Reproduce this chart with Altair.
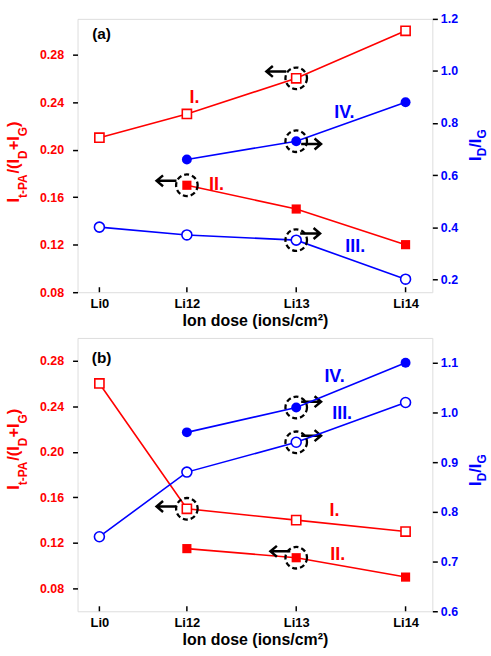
import altair as alt
import pandas as pd

# ---------------- data ----------------
doses = ["Li0", "Li12", "Li13", "Li14"]
dose_x = [11.2, 12, 13, 14]

a_I = [0.21, 0.23, 0.26, 0.30]
a_II = [None, 0.17, 0.15, 0.12]
a_III = [0.40, 0.37, 0.35, 0.20]
a_IV = [None, 0.66, 0.73, 0.88]

b_I = [0.26, 0.15, 0.14, 0.13]
b_II = [None, 0.115, 0.107, 0.09]
b_III = [0.75, 0.88, 0.94, 1.02]
b_IV = [None, 0.96, 1.01, 1.10]

left_ticks = [0.08, 0.12, 0.16, 0.20, 0.24, 0.28]
a_right_ticks = [0.2, 0.4, 0.6, 0.8, 1.0, 1.2]
b_right_ticks = [0.6, 0.7, 0.8, 0.9, 1.0, 1.1]

# ---------------- style ----------------
RED = "#ff0000"
BLUE = "#0000ff"
FONT = "Liberation Sans"
W, H = 357, 275
one = pd.DataFrame({"a": [0]})

x_scale = alt.Scale(domain=[11.0, 14.245], nice=False, zero=False)
label_expr = " : ".join(
    f"datum.value == {v} ? '{d}'" for v, d in zip(dose_x, doses)
) + " : ''"
x_axis = alt.Axis(values=dose_x, labelExpr=label_expr, ticks=False, domain=False,
                  grid=False, labelFont=FONT, labelFontWeight="bold", labelFontSize=13,
                  labelColor="black", labelPadding=5, labelAngle=0,
                  title="Ion dose (ions/cm²)", titleFont=FONT, titleFontWeight="bold",
                  titleFontSize=16, titleColor="black", titlePadding=2)


def X():
    return alt.X("x:Q", scale=x_scale, axis=x_axis)


def YL(domain):
    return alt.Y("y:Q", scale=alt.Scale(domain=domain, nice=False, zero=False),
                 axis=alt.Axis(orient="left", values=left_ticks, format=".2f",
                               domain=False, grid=False, tickColor="black", tickSize=5,
                               tickWidth=1.5, labelColor=RED, labelFont=FONT,
                               labelFontWeight="bold", labelFontSize=12.5, labelPadding=9,
                               title=None))


def YR(domain, ticks):
    return alt.Y("y:Q", scale=alt.Scale(domain=domain, nice=False, zero=False),
                 axis=alt.Axis(orient="right", values=ticks, format=".1f",
                               domain=False, grid=False, tickColor="black", tickSize=5,
                               tickWidth=1.5, labelColor=BLUE, labelFont=FONT,
                               labelFontWeight="bold", labelFontSize=12.5, labelPadding=3,
                               title=None))


def sdf(vals):
    return pd.DataFrame({"x": dose_x, "y": vals}).dropna()


def series(vals, color, shape, is_open, Y):
    d = sdf(vals)
    line = alt.Chart(d).mark_line(color=color, strokeWidth=1.6).encode(x=X(), y=Y)
    if is_open:
        pts = alt.Chart(d).mark_point(shape=shape, size=85 if shape == "square" else 100,
                                      filled=True, fill="white", stroke=color,
                                      strokeWidth=1.6, opacity=1).encode(x=X(), y=Y)
    else:
        pts = alt.Chart(d).mark_point(shape=shape, size=85 if shape == "square" else 100,
                                      filled=True, color=color, opacity=1).encode(x=X(), y=Y)
    return [line, pts]


def circles(pts, Y):
    d = pd.DataFrame({"x": [p[0] for p in pts], "y": [p[1] for p in pts]})
    return alt.Chart(d).mark_point(shape="circle", size=470, filled=False, stroke="black",
                                   strokeWidth=2.3, strokeDash=[5, 3], opacity=1
                                   ).encode(x=X(), y=Y)


LEFT_ARROW = "M1,0L-1,0M-0.35,-0.55L-1,0L-0.35,0.55"
RIGHT_ARROW = "M-1,0L1,0M0.35,-0.55L1,0L0.35,0.55"


def arrows(pts, path, Y):
    d = pd.DataFrame({"x": [p[0] for p in pts], "y": [p[1] for p in pts]})
    return alt.Chart(d).mark_point(shape=path, size=400, filled=False, stroke="black",
                                   strokeWidth=2.5, opacity=1).encode(x=X(), y=Y)


def labels(items, Y):
    d = pd.DataFrame({"x": [i[0] for i in items], "y": [i[1] for i in items],
                      "t": [i[2] for i in items], "c": [i[3] for i in items]})
    return alt.Chart(d).mark_text(font=FONT, fontWeight="bold", fontSize=18).encode(
        x=X(), y=Y, text="t:N", color=alt.Color("c:N", scale=None))


def tag(x, y, text, Y):
    d = pd.DataFrame({"x": [x], "y": [y], "t": [text]})
    return alt.Chart(d).mark_text(font=FONT, fontWeight="bold", fontSize=15.5,
                                  color="black").encode(x=X(), y=Y, text="t:N")


def inward_ticks(Y):
    d = pd.DataFrame({"x": dose_x})
    return alt.Chart(d).mark_rule(color="black", strokeWidth=1.5).encode(
        x=X(), y=alt.value(H), y2=alt.value(H - 5))


EM = {"I": .278, "t": .333, "-": .333, "P": .667, "A": .722, "/": .278, "(": .333,
      ")": .333, "D": .722, "+": .584, "G": .778}


def rot_title(pieces, x_main, x_sub, y_center, color, fmain=16.5, fsub=12):
    widths = [sum(EM[c] for c in t) * (fsub if sub else fmain) for t, sub in pieces]
    total = sum(widths)
    y = y_center + total / 2
    out = []
    for (t, sub), w in zip(pieces, widths):
        out.append(alt.Chart(one).mark_text(
            text=t, angle=270, align="left", baseline="alphabetic",
            fontSize=fsub if sub else fmain, font=FONT, fontWeight="bold", color=color
        ).encode(x=alt.value(x_sub if sub else x_main), y=alt.value(y)))
        y -= w
    return out


LEFT_T = [("I", False), ("t-PA", True), ("/(I", False), ("D", True), ("+I", False),
          ("G", True), (")", False)]
RIGHT_T = [("I", False), ("D", True), ("/I", False), ("G", True)]


def panel(L_series, R_series, ldom, rdom, rticks, lcirc, rcirc, larr, rarr, labs,
          tagpos, tagtext, lt_center, rt_center):
    YLe = YL(ldom)
    YRe = YR(rdom, rticks)
    left_layers = [inward_ticks(YLe)]
    for vals, shape, is_open in L_series:
        left_layers += series(vals, RED, shape, is_open, YLe)
    left_layers += [circles(lcirc, YLe), arrows(larr, LEFT_ARROW, YLe),
                    arrows(rarr, RIGHT_ARROW, YLe), labels(labs, YLe),
                    tag(tagpos[0], tagpos[1], tagtext, YLe)]
    right_layers = []
    for vals, shape, is_open in R_series:
        right_layers += series(vals, BLUE, shape, is_open, YRe)
    right_layers += [circles(rcirc, YRe)]
    titles = rot_title(LEFT_T, -59, -50.5, lt_center, RED) + \
        rot_title(RIGHT_T, W + 48.5, W + 54, rt_center, BLUE)
    return alt.layer(alt.layer(*left_layers), alt.layer(*right_layers), *titles
                     ).resolve_scale(y="independent").properties(width=W, height=H)


top = panel(
    L_series=[(a_I, "square", True), (a_II, "square", False)],
    R_series=[(a_III, "circle", True), (a_IV, "circle", False)],
    ldom=[0.08, 0.31], rdom=[0.15, 1.2], rticks=a_right_ticks,
    lcirc=[(dose_x[2], a_I[2]), (dose_x[1], a_II[1])],
    rcirc=[(dose_x[2], a_IV[2]), (dose_x[2], a_III[2])],
    larr=[(12.818, 0.2658), (11.814, 0.1737)],
    rarr=[(13.136, 0.2047), (13.127, 0.1294)],
    labs=[(12.07, 0.243, "I.", RED), (12.27, 0.170, "II.", RED),
          (13.44, 0.231, "IV.", BLUE), (13.54, 0.118, "III.", BLUE)],
    tagpos=(11.22, 0.297), tagtext="(a)", lt_center=144, rt_center=127,
)

bottom = panel(
    L_series=[(b_I, "square", True), (b_II, "square", False)],
    R_series=[(b_III, "circle", True), (b_IV, "circle", False)],
    ldom=[0.06, 0.30], rdom=[0.6, 1.15], rticks=b_right_ticks,
    lcirc=[(dose_x[1], b_I[1]), (dose_x[2], b_II[2])],
    rcirc=[(dose_x[2], b_IV[2]), (dose_x[2], b_III[2])],
    larr=[(11.814, 0.152), (12.855, 0.1126)],
    rarr=[(13.136, 0.244), (13.136, 0.2142)],
    labs=[(13.35, 0.266, "IV.", BLUE), (13.42, 0.233, "III.", BLUE),
          (13.35, 0.148, "I.", RED), (13.38, 0.109, "II.", RED)],
    tagpos=(11.22, 0.2825), tagtext="(b)", lt_center=112, rt_center=133,
)

chart = alt.vconcat(top, bottom, spacing=8).properties(
    padding={"left": 5, "top": 10, "right": 2, "bottom": 2}
).configure_view(stroke="black", strokeWidth=2).configure(background="white")

chart.save("out.html", embed_options={"renderer": "svg", "actions": False})
